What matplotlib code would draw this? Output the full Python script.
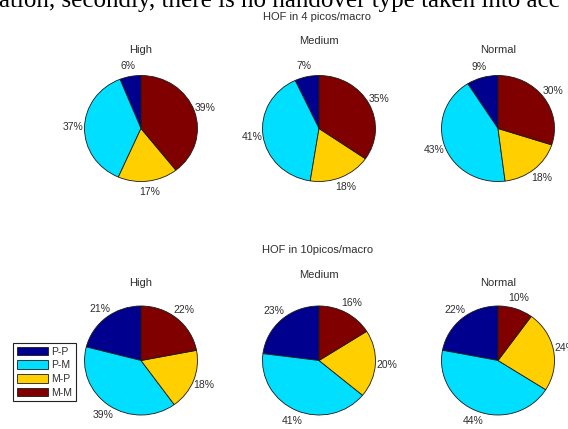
import matplotlib
matplotlib.use("Agg")
import matplotlib.pyplot as plt

# Handover failure shares (%) per handover type
types = ["P-P", "P-M", "M-P", "M-M"]
loads = ["High", "Medium", "Normal"]
hof_4picos = {
    "High": [6, 37, 17, 39],
    "Medium": [7, 41, 18, 35],
    "Normal": [9, 43, 18, 30],
}
hof_10picos = {
    "High": [21, 39, 18, 22],
    "Medium": [23, 41, 20, 16],
    "Normal": [22, 44, 24, 10],
}
row_titles = ["HOF in 4 picos/macro", "HOF in 10picos/macro"]
page_line = "ation, secondly, there is no handover type taken into acc"

colors = ["#00008f", "#00dfff", "#ffcf00", "#800000"]
text_color = "#2e2e2e"

W, H = 568, 429
fig = plt.figure(figsize=(W / 100, H / 100), dpi=100)
fig.patch.set_facecolor("white")


def fx(x):
    return x / W


def fy(y):
    return 1 - y / H


# Layout in pixels: pie centres, radii, title heights
centers_x = [141, 319, 498]
rows = [
    dict(data=hof_4picos, cy=128.5, rx=56.5, ry=53, title_y=[50, 41, 50], head=(317, 16.5)),
    dict(data=hof_10picos, cy=360.5, rx=56.5, ry=54.5, title_y=[283, 275, 283], head=(318, 250)),
]

legend_wedges = None
for r, row in enumerate(rows):
    fig.text(fx(row["head"][0]), fy(row["head"][1]), row_titles[r],
             ha="center", va="center", fontsize=8, color=text_color,
             family="Liberation Sans")
    for c, load in enumerate(loads):
        cx = centers_x[c]
        ax = fig.add_axes([fx(cx - row["rx"]), fy(row["cy"] + row["ry"]),
                           2 * row["rx"] / W, 2 * row["ry"] / H])
        vals = row["data"][load]
        wedges, texts = ax.pie(
            vals, labels=[f"{v}%" for v in vals], colors=colors,
            startangle=90, counterclock=True, labeldistance=1.2,
            wedgeprops=dict(edgecolor="#1a1a1a", linewidth=0.6),
            textprops=dict(fontsize=7.5, color=text_color, family="Liberation Sans"),
        )
        for t in texts:
            t.set_ha("center")
            t.set_va("center")
        ax.set_aspect("auto")
        ax.set_xlim(-1, 1)
        ax.set_ylim(-1, 1)
        ax.axis("off")
        fig.text(fx(cx), fy(row["title_y"][c]), load, ha="center", va="center",
                 fontsize=8, color=text_color, family="Liberation Sans")
        if r == 1 and c == 0:
            legend_wedges = wedges

leg = fig.legend(
    legend_wedges, types, loc="upper left", bbox_to_anchor=(fx(13), fy(343)),
    borderaxespad=0, fancybox=False, framealpha=1, edgecolor="#222222",
    handlelength=3.0, handleheight=0.9, labelspacing=0.35,
    handletextpad=0.3, borderpad=0.35,
    prop=dict(family="Liberation Sans", size=7.5),
)
leg.get_frame().set_linewidth(0.8)
for t in leg.get_texts():
    t.set_color(text_color)

# Cropped line of body text running above the figure
fig.text(fx(-1), fy(7), page_line, ha="left", va="baseline", fontsize=18,
         color="black", family="Liberation Serif")

fig.savefig("out.png", dpi=100, facecolor="white")
